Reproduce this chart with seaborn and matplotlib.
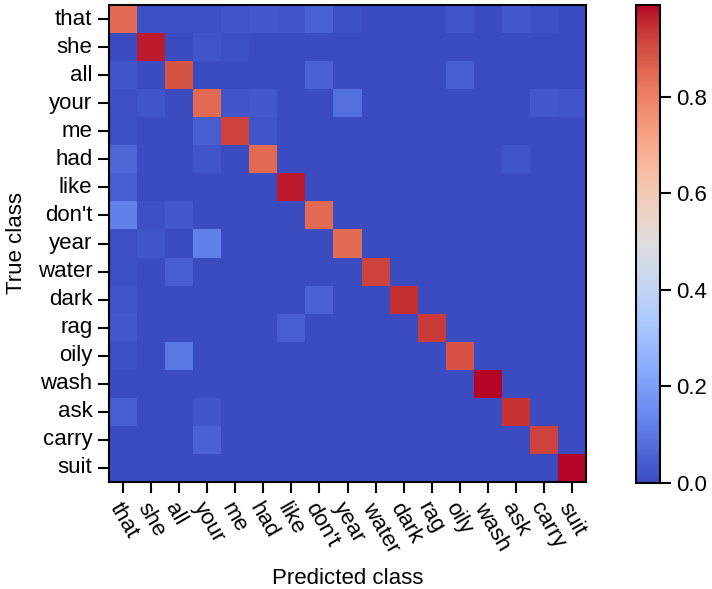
"""Confusion matrix heatmap for word classification."""

import numpy as np
import pandas as pd
import matplotlib
matplotlib.use("Agg")
import matplotlib.pyplot as plt
import seaborn as sns

# Class labels (rows = true, columns = predicted)
classes = ["that", "she", "all", "your", "me", "had", "like", "don't", "year",
           "water", "dark", "rag", "oily", "wash", "ask", "carry", "suit"]

# Diagonal (correct) rates
diag = [0.84, 0.97, 0.89, 0.85, 0.92, 0.85, 0.97, 0.85, 0.84,
        0.92, 0.95, 0.93, 0.89, 0.99, 0.94, 0.92, 0.99]

# Notable off-diagonal confusions: (true, predicted, rate)
confusions = [
    ("that", "she", 0.01), ("that", "all", 0.01), ("that", "your", 0.01),
    ("that", "me", 0.02), ("that", "had", 0.03), ("that", "like", 0.02),
    ("that", "don't", 0.05), ("that", "year", 0.01), ("that", "oily", 0.02),
    ("that", "ask", 0.03), ("that", "carry", 0.01),
    ("she", "your", 0.02), ("she", "me", 0.01),
    ("all", "that", 0.02), ("all", "don't", 0.05), ("all", "oily", 0.04),
    ("your", "that", 0.01), ("your", "she", 0.02), ("your", "me", 0.02),
    ("your", "had", 0.03), ("your", "year", 0.08), ("your", "carry", 0.03),
    ("your", "suit", 0.02),
    ("me", "that", 0.01), ("me", "your", 0.04), ("me", "had", 0.02),
    ("had", "that", 0.06), ("had", "your", 0.02), ("had", "ask", 0.02),
    ("like", "that", 0.04),
    ("don't", "that", 0.12), ("don't", "she", 0.01), ("don't", "all", 0.03),
    ("year", "that", 0.01), ("year", "she", 0.02), ("year", "your", 0.12),
    ("water", "all", 0.04), ("water", "that", 0.01),
    ("dark", "that", 0.02), ("dark", "don't", 0.05),
    ("rag", "that", 0.03), ("rag", "like", 0.04),
    ("oily", "that", 0.01), ("oily", "all", 0.10),
    ("ask", "that", 0.04), ("ask", "your", 0.02),
    ("carry", "your", 0.05),
]

plt.rcParams["font.family"] = ["Liberation Sans", "DejaVu Sans"]
plt.rcParams["font.size"] = 16

df_cm = pd.DataFrame(np.zeros((len(classes), len(classes))),
                     index=classes, columns=classes)
for i, c in enumerate(classes):
    df_cm.loc[c, c] = diag[i]
for t, p, v in confusions:
    df_cm.loc[t, p] = v

fig = plt.figure(figsize=(7.12, 5.89), dpi=100)
ax = fig.add_axes([109 / 712, 107 / 589, 477 / 712, 477 / 589])
cax = fig.add_axes([636 / 712, 106 / 589, 24 / 712, 478 / 589])

sns.heatmap(df_cm, cmap="coolwarm", vmin=0, ax=ax, cbar_ax=cax,
            xticklabels=True, yticklabels=True)

for spine in ax.spines.values():
    spine.set_visible(True)
    spine.set_color("black")
    spine.set_linewidth(1.5)

ax.tick_params(axis="both", direction="out", length=8, width=1.5,
               color="black", labelsize=16, pad=4)
ax.set_xticklabels(classes, rotation=-60, ha="left", rotation_mode="anchor")
ax.set_yticklabels(classes, rotation=0)
ax.set_xlabel("Predicted class", fontsize=16, labelpad=8)
ax.set_ylabel("True class", fontsize=16, labelpad=8)

cbar = ax.collections[0].colorbar
cbar.set_ticks([0.0, 0.2, 0.4, 0.6, 0.8])
cbar.ax.tick_params(direction="out", length=8, width=1.5, labelsize=16)
cbar.outline.set_visible(True)
cbar.outline.set_edgecolor("black")
cbar.outline.set_linewidth(1.5)

plt.savefig("out.png", dpi=100)
plt.close()
